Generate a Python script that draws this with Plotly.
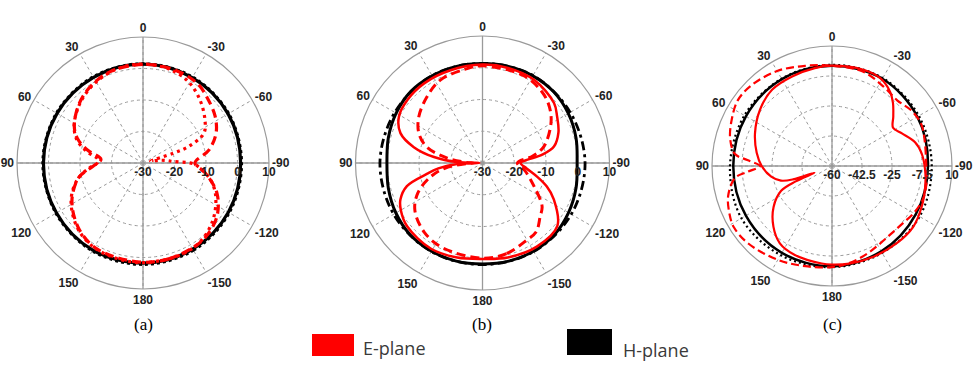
import plotly.graph_objects as go

# ---------------- axis ticks ----------------
ANG_TICKS = [0, 30, 60, 90, 120, 150, 180, 210, 240, 270, 300, 330]
ANG_TEXT = ['0', '30', '60', '90', '120', '150', '180', '-150', '-120', '-90', '-60', '-30']

AB_RANGE = [-30, 10]
AB_RTICKS = [-30, -20, -10, 0, 10]
AB_RTEXT = ['-30', '-20', '-10', '0', '10']

C_RANGE = [-60, 10]
C_RTICKS = [-60, -42.5, -25, -7.5, 10]
C_RTEXT = ['-60', '-42.5', '-25', '-7.5', '10']

CAPTIONS = ['(a)', '(b)', '(c)']
LEGEND_NAMES = ['E-plane', 'H-plane']

# ---------------- panel (a) ----------------
A_H1_TH = [-180, -150, -120, -90, -60, -30, 0, 30, 60, 90, 120, 150, 180]
A_H1_R = [1.8, 1.6, 1.3, 1.0, 1.2, 1.3, 1.4, 1.4, 1.5, 1.6, 1.7, 1.9, 1.8]
A_H2_TH = [-180, -150, -120, -90, -60, -30, 0, 30, 60, 90, 120, 150, 180]
A_H2_R = [2.2, 2.0, 1.6, 1.3, 1.4, 1.5, 1.5, 1.6, 1.7, 1.8, 1.9, 2.2, 2.2]
A_E1_TH = [-180, -165, -150, -140, -126, -112, -99, -90, -79, -68, -57, -45, -35, -20, 0,
           20, 35, 48, 62, 70, 77, 85, 94, 102, 113, 123, 136, 149, 162, 180]
A_E1_R = [1.5, 1.5, 1.2, 0.8, -1.0, -4.7, -10.0, -13.5, -8.7, -5.0, -2.7, -1.0, 0.5, 1.2, 1.3,
          0.8, -0.6, -2.5, -5.3, -8.0, -12.0, -16.6, -14.0, -9.4, -5.8, -3.3, -0.8, 0.8, 1.1, 1.5]
A_E2_TH = [-180, -160, -145, -130, -115, -105, -97, -91, -87, -84, -80, -76, -72, -70, -64, -55,
           -42, -29, -15, 0, 15, 30, 45, 60, 70, 78, 85, 90, 95, 103, 113, 123, 136, 150, 165, 180]
A_E2_R = [1.6, 1.5, 1.0, -1.2, -4.5, -7.5, -11.0, -14.0, -20.5, -22.5, -25.0, -27.5, -20.0, -14.5,
          -8.5, -6.0, -3.0, -0.4, 1.0, 1.4, 1.0, -0.3, -2.2, -4.8, -7.5, -11.5, -15.5, -15.5, -13.0,
          -9.0, -5.5, -3.0, -0.5, 1.0, 1.4, 1.6]

# ---------------- panel (b) ----------------
B_H1_TH = [-180, -165, -150, -135, -120, -105, -90, -75, -60, -45, -30, -15, 0,
           15, 30, 45, 60, 75, 90, 105, 120, 135, 150, 165, 180]
B_H1_R = [1.8, 2.0, 2.1, 2.0, 1.3, 0.5, -0.2, 0.5, 1.2, 1.7, 1.7, 1.5, 1.3,
          1.5, 1.7, 1.9, 1.4, 0.7, 0.1, 0.7, 1.5, 2.1, 2.1, 2.0, 1.8]
B_H2_TH = [-180, -150, -120, -90, -60, -30, 0, 30, 60, 90, 120, 150, 180]
B_H2_R = [2.0, 2.2, 2.3, 2.3, 1.9, 1.8, 1.4, 1.8, 1.9, 2.3, 2.3, 2.2, 2.0]
B_E1_TH = [-180, -165, -147, -130, -117, -110, -104, -97, -90, -86, -82, -77, -68, -58, -50, -32,
           -15, 0, 19, 36, 50, 61, 70, 77, 83, 88, 90, 92, 97, 101, 107, 114, 120, 130, 149, 165, 180]
B_E1_R = [0.2, 0.8, 1.4, 0.8, -4.8, -8.5, -12.3, -16.0, -18.0, -16.0, -11.0, -6.9, -4.2, -2.3,
          -0.6, 0.8, 1.0, 1.0, 0.9, 1.1, 0.9, 0.1, -2.5, -7.8, -14.6, -22.0, -29.0, -22.0, -16.0,
          -12.3, -5.1, -1.7, -0.3, 1.0, 1.5, 0.8, 0.2]
B_E2_TH = [-180, -165, -150, -142, -133, -126, -114, -100, -90, -82, -75, -60, -50, -40, -25, 0,
           11, 27, 40, 54, 65, 74, 82, 88, 90, 92, 98, 105, 115, 125, 140, 155, 180]
B_E2_R = [0.0, -0.5, -2.0, -2.5, -5.2, -6.8, -12.3, -16.5, -19.0, -14.0, -10.0, -5.1, -2.5, -0.8,
          0.4, 0.6, 0.0, -0.7, -2.8, -5.2, -7.9, -11.8, -18.8, -25.0, -27.0, -25.0, -18.0, -13.0,
          -7.5, -4.0, -1.5, -0.5, 0.0]

# ---------------- panel (c) ----------------
C_H1_TH = [-180, -150, -120, -90, -60, -30, 0, 30, 60, 90, 120, 150, 180]
C_H1_R = [-1.5, -2.5, -3.6, -4.0, -2.5, -1.2, -1.5, -1.5, -2.0, -2.4, -2.0, -1.5, -1.5]
C_H2_TH = [-180, -150, -120, -90, -60, -30, 0, 30, 60, 90, 120, 150, 180]
C_H2_R = [-1.0, -1.5, -1.0, -1.8, -1.5, -0.8, -1.0, -1.2, -1.0, -0.5, 1.0, 0.0, -1.0]
C_E1_TH = [-180, -170, -155, -140, -127, -114, -102, -92, -82, -74, -65, -58, -51, -44, -38, -29,
           -18, 0, 10, 24, 38, 52, 67, 80, 90, 100, 106, 109, 111, 113, 116, 125, 136, 146, 157, 174, 180]
C_E1_R = [-2.5, -2.2, -1.8, -1.2, -0.8, -2.6, -4.4, -5.7, -7.2, -9.6, -15.0, -18.0, -14.0, -8.8,
          -5.0, -1.6, -1.0, -1.5, -2.0, -2.8, -3.4, -6.7, -11.2, -15.4, -19.0, -24.0, -29.0, -36.0,
          -49.0, -37.0, -27.0, -18.4, -10.8, -5.6, -3.8, -2.8, -2.5]
C_E2_TH = [-180, -170, -160, -150, -140, -130, -120, -110, -100, -90, -75, -65, -55, -45, -33, -18,
           0, 15, 30, 45, 55, 65, 75, 83, 86, 90, 94, 97, 106, 115, 122, 133, 150, 165, 180]
C_E2_R = [-1.0, -2.5, -4.5, -6.5, -7.5, -7.0, -5.0, -3.5, -4.0, -5.0, -4.0, -2.5, -3.5, -6.0, -4.8,
          -2.0, -1.5, 0.5, 4.0, 6.5, 7.0, 4.5, 1.5, -3.0, -10.5, -18.0, -10.5, -3.0, 3.0, 6.0, 7.5,
          6.5, 3.2, 0.5, -1.0]

RED = '#ff0000'
BLACK = '#000000'
GRID = '#9a9a9a'

panels = [
    ('polar', AB_RANGE, [
        (A_H2_TH, A_H2_R, BLACK, '3px,3px', 3.0),
        (A_H1_TH, A_H1_R, BLACK, 'solid', 3.2),
        (A_E1_TH, A_E1_R, RED, '9px,5px', 3.2),
        (A_E2_TH, A_E2_R, RED, '3px,4px', 3.2),
    ]),
    ('polar2', AB_RANGE, [
        (B_H2_TH, B_H2_R, BLACK, '9px,4px,3px,4px', 2.8),
        (B_H1_TH, B_H1_R, BLACK, 'solid', 3.0),
        (B_E2_TH, B_E2_R, RED, '9px,5px', 3.0),
        (B_E1_TH, B_E1_R, RED, 'solid', 2.5),
    ]),
    ('polar3', C_RANGE, [
        (C_H2_TH, C_H2_R, BLACK, '2px,3px', 2.2),
        (C_H1_TH, C_H1_R, BLACK, 'solid', 2.5),
        (C_E2_TH, C_E2_R, RED, '8px,4px', 2.2),
        (C_E1_TH, C_E1_R, RED, 'solid', 2.2),
    ]),
]

fig = go.Figure()

for sub, rng, traces in panels:
    # solid horizontal and vertical axis lines through the centre
    for th in ([90, 90, 270], [0, 0, 180]):
        fig.add_trace(go.Scatterpolar(
            r=[rng[1], rng[0], rng[1]], theta=th, mode='lines',
            line=dict(color=GRID, width=1.3), subplot=sub,
            showlegend=False, hoverinfo='skip'))
    for th, r, col, dash, w in traces:
        fig.add_trace(go.Scatterpolar(
            r=r, theta=th, mode='lines',
            line=dict(color=col, dash=dash, width=w, shape='spline', smoothing=1.0),
            subplot=sub, showlegend=False))

tick_font = dict(family='Liberation Sans, Arial', size=12, color='#222222', weight='bold')


def polar_layout(dom_x, dom_y, rng, rt, rtx):
    return dict(
        domain=dict(x=dom_x, y=dom_y),
        bgcolor='white',
        radialaxis=dict(
            range=rng, tickvals=rt, ticktext=rtx, angle=0, side='clockwise',
            showline=False, ticks='', tickfont=tick_font,
            gridcolor=GRID, griddash='dot', gridwidth=1),
        angularaxis=dict(
            rotation=90, direction='counterclockwise',
            tickvals=ANG_TICKS, ticktext=ANG_TEXT, ticks='',
            tickfont=tick_font, showline=True, linecolor=GRID, linewidth=1.2,
            gridcolor=GRID, griddash='dot', gridwidth=1),
    )


W, H = 978, 368
fig.update_layout(
    width=W, height=H,
    margin=dict(l=0, r=0, t=0, b=0),
    paper_bgcolor='white', plot_bgcolor='white',
    showlegend=False,
    polar=polar_layout([17 / W, 269 / W], [(205 - 126) / H, (205 + 126) / H], AB_RANGE, AB_RTICKS, AB_RTEXT),
    polar2=polar_layout([355.5 / W, 609.5 / W], [(205 - 127) / H, (205 + 127) / H], AB_RANGE, AB_RTICKS, AB_RTEXT),
    polar3=polar_layout([712 / W, 952 / W], [(202 - 120) / H, (202 + 120) / H], C_RANGE, C_RTICKS, C_RTEXT),
)

# captions
for txt, cx in zip(CAPTIONS, [143, 482, 832]):
    fig.add_annotation(text=txt, x=cx / W, y=1 - 324 / H, xref='paper', yref='paper',
                       showarrow=False, xanchor='center', yanchor='middle',
                       font=dict(family='Liberation Serif, Times New Roman', size=17, color='black'))

# legend boxes
fig.add_shape(type='rect', xref='paper', yref='paper', x0=312 / W, x1=354 / W,
              y0=1 - 356 / H, y1=1 - 334 / H, fillcolor=RED, line=dict(width=0))
fig.add_shape(type='rect', xref='paper', yref='paper', x0=567 / W, x1=612 / W,
              y0=1 - 355 / H, y1=1 - 329 / H, fillcolor=BLACK, line=dict(width=0))
fig.add_annotation(text=LEGEND_NAMES[0], x=361 / W, y=1 - 348 / H, xref='paper', yref='paper',
                   showarrow=False, xanchor='left', yanchor='middle',
                   font=dict(family='Open Sans, Noto Sans', size=18, color='#3a3a3a'))
fig.add_annotation(text=LEGEND_NAMES[1], x=621 / W, y=1 - 350 / H, xref='paper', yref='paper',
                   showarrow=False, xanchor='left', yanchor='middle',
                   font=dict(family='Open Sans, Noto Sans', size=18, color='#3a3a3a'))

fig.write_html('out.html')
